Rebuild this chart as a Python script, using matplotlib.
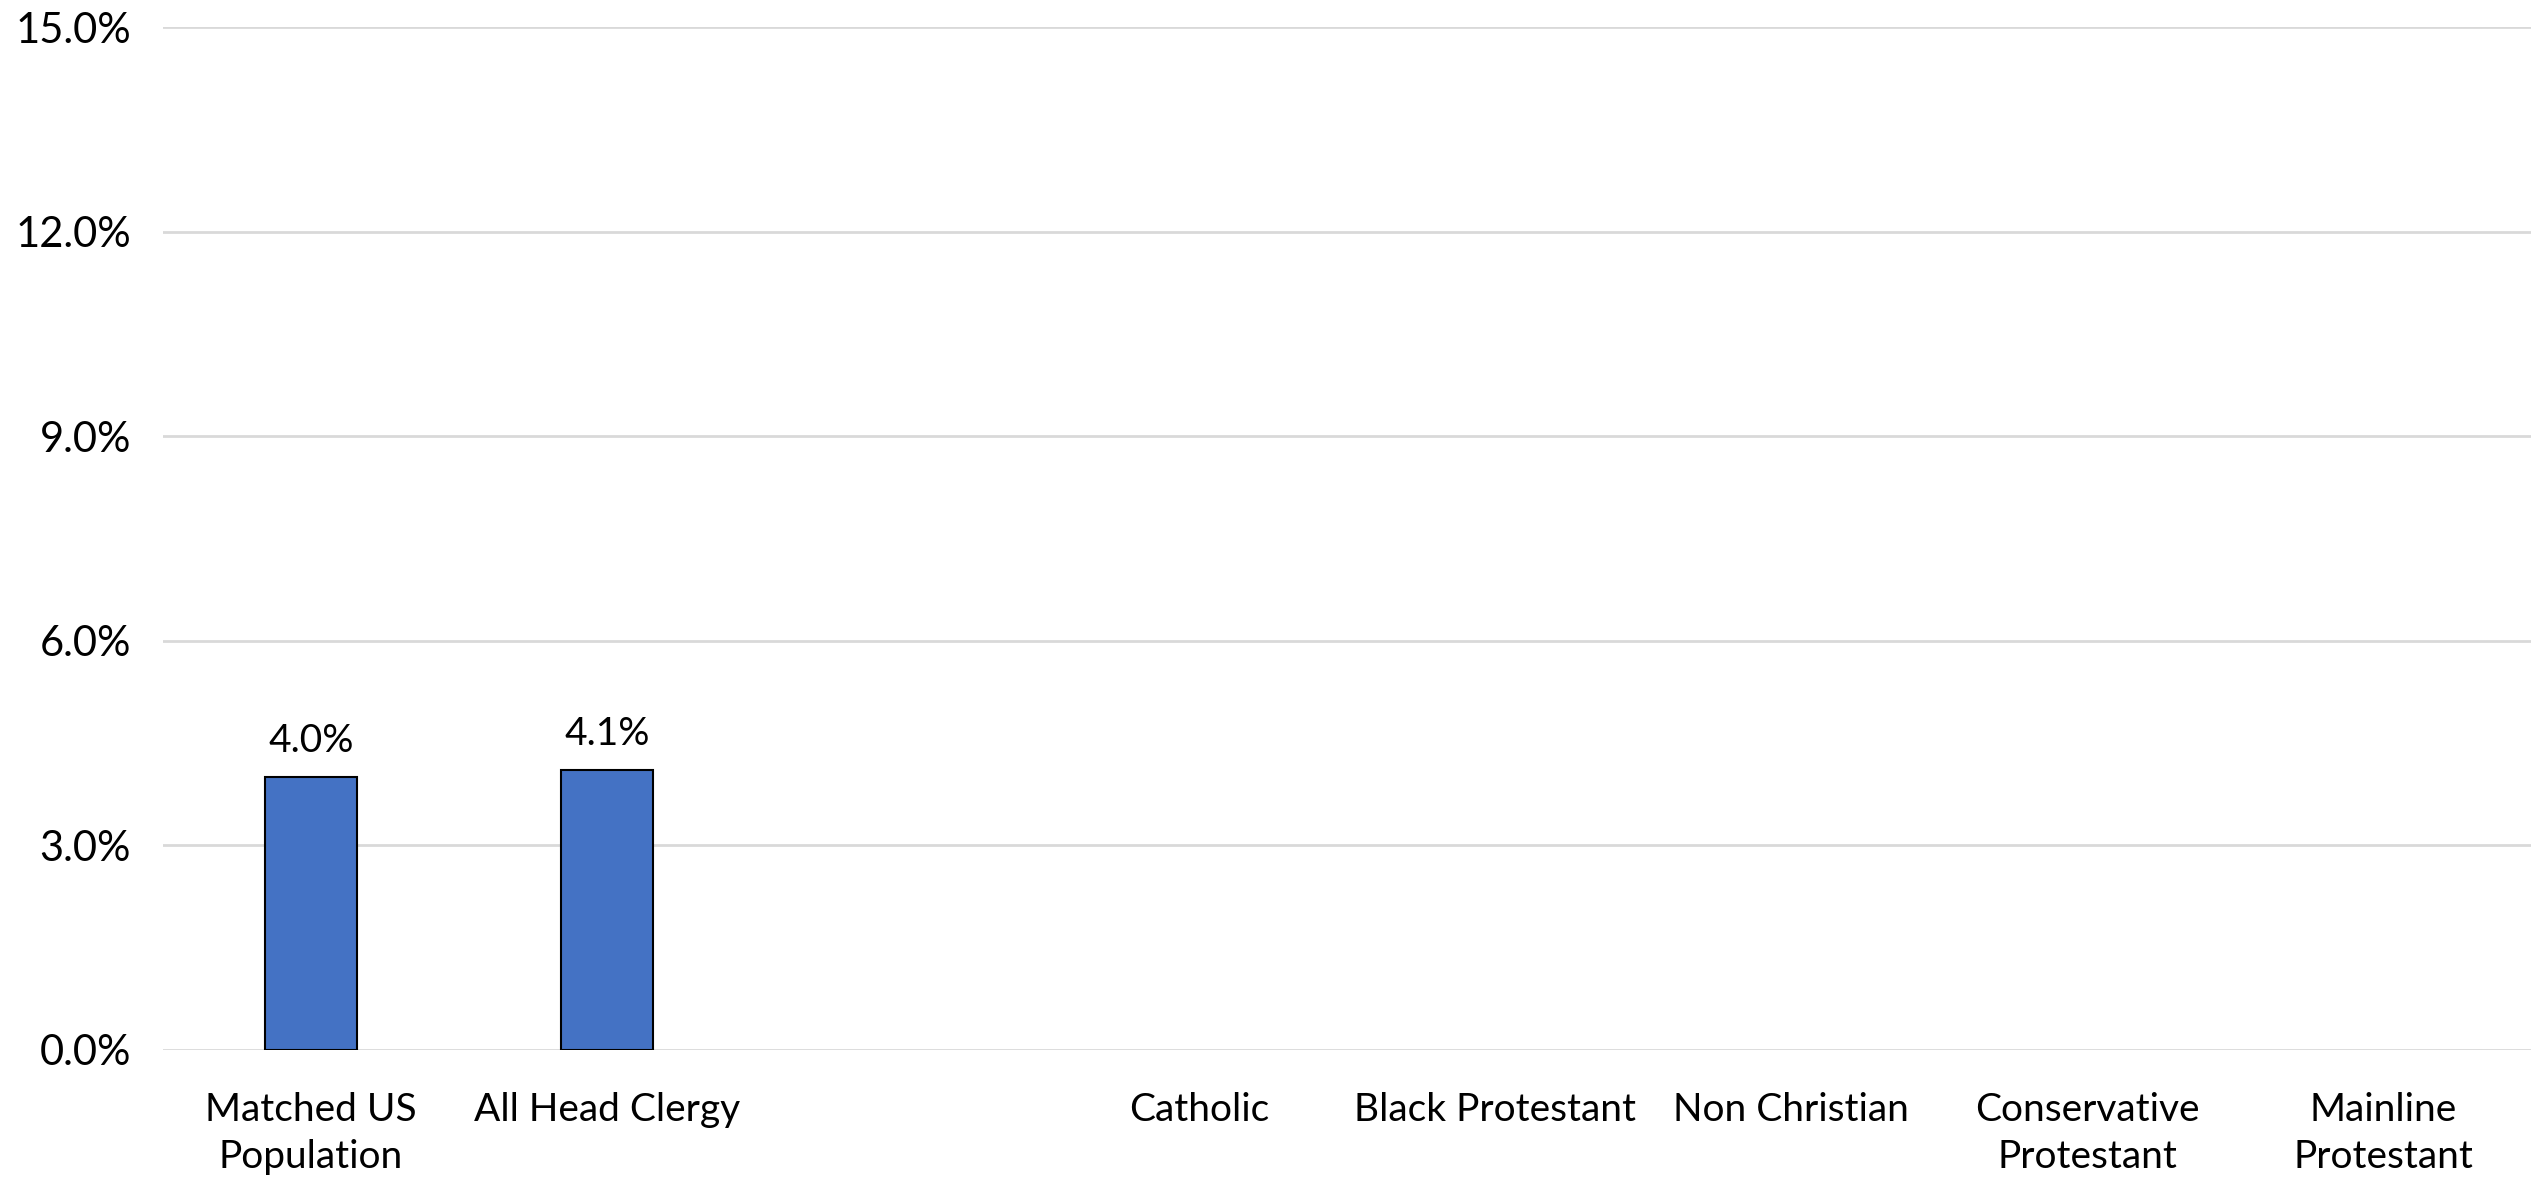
import matplotlib
matplotlib.use("Agg")
import matplotlib.pyplot as plt
from matplotlib.ticker import FuncFormatter
import numpy as np

# categories (one empty slot between the two groups, like in the original sheet)
categories = ["Matched US\nPopulation", "All Head Clergy", "", "Catholic",
              "Black Protestant", "Non Christian", "Conservative\nProtestant",
              "Mainline\nProtestant"]
values = [4.0, 4.1, np.nan, np.nan, np.nan, np.nan, np.nan, np.nan]
y_ticks = [0, 3, 6, 9, 12, 15]

plt.rcParams['font.family'] = ['Lato', 'DejaVu Sans']

fig = plt.figure(figsize=(25.34, 11.78), dpi=100)
ax = fig.add_axes([0.0643, 0.1087, 0.9345, 0.8683])

x = np.arange(len(categories))
heights = [0 if np.isnan(v) else v for v in values]
bars = ax.bar(x, heights, width=0.31, color='#4472C4', edgecolor='black',
              linewidth=1.5, zorder=3)

# data labels only where there is a value
for b, v in zip(bars, values):
    if np.isnan(v):
        b.set_visible(False)
        continue
    ax.annotate(f"{v:.1f}%", (b.get_x() + b.get_width() / 2, v),
                xytext=(0, 13), textcoords='offset points',
                ha='center', va='bottom', fontsize=28, color='black')

ax.set_xlim(-0.5, len(categories) - 0.5)
ax.set_ylim(0, 15)
ax.set_yticks(y_ticks)
ax.yaxis.set_major_formatter(FuncFormatter(lambda v, p: f"{v:.1f}%"))
ax.set_xticks(x)
ax.set_xticklabels(categories, fontsize=28, linespacing=1.4)
ax.tick_params(axis='y', labelsize=30, length=0, pad=23)
ax.tick_params(axis='x', length=0, pad=30)

ax.grid(axis='y', color='#D9D9D9', linewidth=2, zorder=0)
for s in ax.spines.values():
    s.set_visible(False)

fig.savefig("out.png", dpi=100)
